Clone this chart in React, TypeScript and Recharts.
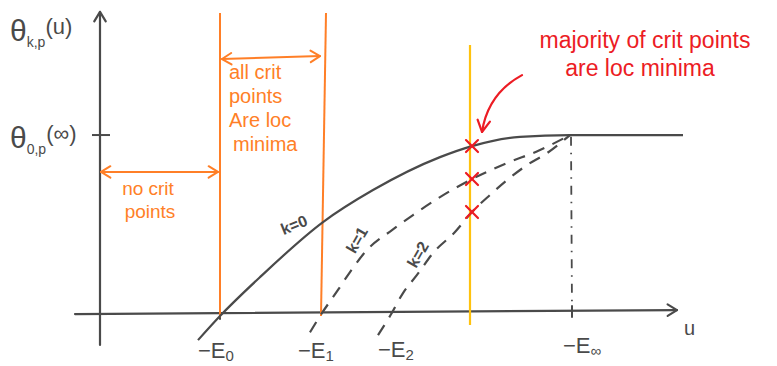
import React from 'react';
import { ComposedChart, Line, XAxis, YAxis, ReferenceLine, ReferenceDot } from 'recharts';

// u positions of the marked energies on the horizontal axis
const E_TICKS = [
  { u: 2.4, sub: '0' },
  { u: 4.4, sub: '1' },
  { u: 5.66, sub: '2' },
  { u: 9.44, sub: '∞' },
];
const CUT_U = 7.44;

// theta_{k,p}(u) sketches, theta_{0,p}(inf) = 1
const K0 = [
  { u: 1.96, theta: -0.133 },
  { u: 2.4, theta: 0 },
  { u: 3.2, theta: 0.215 },
  { u: 4.46, theta: 0.519 },
  { u: 5.46, theta: 0.696 },
  { u: 6.8, theta: 0.878 },
  { u: 7.44, theta: 0.939 },
  { u: 8.4, theta: 0.99 },
  { u: 9.4, theta: 1 },
  { u: 11.66, theta: 1 },
];
const K1 = [
  { u: 4.2, theta: -0.09 },
  { u: 4.4, theta: 0 },
  { u: 4.76, theta: 0.144 },
  { u: 5.0, theta: 0.243 },
  { u: 5.34, theta: 0.365 },
  { u: 5.84, theta: 0.475 },
  { u: 6.26, theta: 0.558 },
  { u: 6.8, theta: 0.657 },
  { u: 7.44, theta: 0.757 },
  { u: 8.14, theta: 0.845 },
  { u: 8.8, theta: 0.917 },
  { u: 9.4, theta: 1 },
];
const K2 = [
  { u: 5.56, theta: -0.105 },
  { u: 5.8, theta: 0 },
  { u: 6.06, theta: 0.127 },
  { u: 6.34, theta: 0.227 },
  { u: 6.66, theta: 0.348 },
  { u: 7.1, theta: 0.464 },
  { u: 7.44, theta: 0.575 },
  { u: 7.8, theta: 0.669 },
  { u: 8.14, theta: 0.751 },
  { u: 8.54, theta: 0.834 },
  { u: 8.94, theta: 0.9 },
  { u: 9.4, theta: 1 },
];

const CURVES = [K0, K1, K2];

const INK = '#4a4a4a';
const ORANGE = '#ff7f27';
const YELLOW = '#ffc20e';
const RED = '#ec1c24';
const FONT = '"Liberation Sans", Arial, sans-serif';

type Pt = { x: number; y: number };

function head(tip: Pt, from: Pt, len = 10, spread = 0.5) {
  const a = Math.atan2(tip.y - from.y, tip.x - from.x);
  const l = { x: tip.x - len * Math.cos(a - spread), y: tip.y - len * Math.sin(a - spread) };
  const r = { x: tip.x - len * Math.cos(a + spread), y: tip.y - len * Math.sin(a + spread) };
  return `M${l.x},${l.y} L${tip.x},${tip.y} L${r.x},${r.y}`;
}

// straight stroke with arrowheads on either or both ends
const arrow = (color: string, start: boolean, end: boolean, width = 2) => (p: any) => {
  const a = { x: p.x1, y: p.y1 };
  const b = { x: p.x2, y: p.y2 };
  return (
    <g fill="none" stroke={color} strokeWidth={width} strokeLinecap="round" strokeLinejoin="round">
      <path d={`M${a.x},${a.y} L${b.x},${b.y}`} />
      {start && <path d={head(a, b, 11, 0.55)} />}
      {end && <path d={head(b, a, 11, 0.55)} />}
    </g>
  );
};

// bowed pointer from the note down to the crossing
const curvedArrow = (p: any) => {
  const a = { x: p.x1, y: p.y1 };
  const b = { x: p.x2, y: p.y2 };
  const c = { x: (a.x + b.x) / 2 - 14, y: (a.y + b.y) / 2 - 10 };
  return (
    <g fill="none" stroke={RED} strokeWidth={2.2} strokeLinecap="round" strokeLinejoin="round">
      <path d={`M${a.x},${a.y} Q${c.x},${c.y} ${b.x},${b.y}`} />
      <path d={head(b, c, 13, 0.5)} />
    </g>
  );
};

const cross = (p: any) => (
  <g stroke={RED} strokeWidth={2.2} strokeLinecap="round">
    <line x1={p.cx - 6} y1={p.cy - 6} x2={p.cx + 6} y2={p.cy + 6} />
    <line x1={p.cx + 6} y1={p.cy - 6} x2={p.cx - 6} y2={p.cy + 6} />
  </g>
);

const label =
  (content: React.ReactNode, color: string, size: number, angle = 0, anchor = 'middle', weight = 'normal') =>
  (p: any) => (
    <text
      x={p.cx}
      y={p.cy}
      fill={color}
      fontSize={size}
      fontWeight={weight}
      fontFamily={FONT}
      textAnchor={anchor}
      dominantBaseline="central"
      transform={angle ? `rotate(${angle} ${p.cx} ${p.cy})` : undefined}
    >
      {content}
    </text>
  );

const tickLabel = (sub: string) =>
  label(
    <>
      <tspan>−E</tspan>
      <tspan fontSize={15} dy={5}>
        {sub}
      </tspan>
    </>,
    INK,
    22,
    0,
    'start'
  );

const TICK_LABEL_AT = [
  { u: 1.96, theta: -0.19 },
  { u: 3.96, theta: -0.19 },
  { u: 5.56, theta: -0.18 },
  { u: 9.26, theta: -0.16 },
];

const noDot = { dot: false, activeDot: false, isAnimationActive: false, legendType: 'none' as const };

export default function App() {
  const crossings = CURVES.map((c) => c.find((d) => d.u === CUT_U)!);

  return (
    <div style={{ position: 'fixed', left: 0, top: 0, background: '#fff' }}>
      <ComposedChart width={777} height={366} margin={{ top: 0, right: 0, bottom: 0, left: 0 }}>
        <XAxis type="number" dataKey="u" hide domain={[-2, 13.54]} allowDataOverflow />
        <YAxis type="number" hide domain={[-0.276, 1.746]} allowDataOverflow />

        {/* axes */}
        <ReferenceLine segment={[{ x: 0, y: -0.16 }, { x: 0, y: 1.68 }]} ifOverflow="visible" shape={arrow(INK, false, true, 2.2)} />
        <ReferenceLine segment={[{ x: -0.5, y: 0.011 }, { x: 11.54, y: 0.033 }]} ifOverflow="visible" shape={arrow(INK, false, true, 2.2)} />
        <ReferenceLine segment={[{ x: -0.16, y: 1 }, { x: 0.2, y: 1 }]} stroke={INK} strokeWidth={2} ifOverflow="visible" />
        <ReferenceLine segment={[{ x: 2.4, y: 0.05 }, { x: 2.4, y: -0.02 }]} stroke={INK} strokeWidth={2} ifOverflow="visible" />
        <ReferenceLine segment={[{ x: 9.44, y: 0.06 }, { x: 9.44, y: -0.01 }]} stroke={INK} strokeWidth={2} ifOverflow="visible" />
        <ReferenceLine
          segment={[{ x: 9.42, y: 0.99 }, { x: 9.44, y: 0.03 }]}
          stroke={INK}
          strokeWidth={1.8}
          strokeDasharray="9 7 1.5 7"
          ifOverflow="visible"
        />

        {/* regions */}
        <ReferenceLine segment={[{ x: 2.4, y: 1.674 }, { x: 2.4, y: -0.006 }]} stroke={ORANGE} strokeWidth={2} ifOverflow="visible" />
        <ReferenceLine segment={[{ x: 4.52, y: 1.674 }, { x: 4.42, y: 0 }]} stroke={ORANGE} strokeWidth={2} ifOverflow="visible" />
        <ReferenceLine segment={[{ x: 0.02, y: 0.796 }, { x: 2.36, y: 0.796 }]} ifOverflow="visible" shape={arrow(ORANGE, true, true)} />
        <ReferenceLine segment={[{ x: 2.44, y: 1.42 }, { x: 4.4, y: 1.436 }]} ifOverflow="visible" shape={arrow(ORANGE, true, true)} />
        <ReferenceLine segment={[{ x: 7.4, y: 1.497 }, { x: 7.4, y: -0.05 }]} stroke={YELLOW} strokeWidth={2.2} ifOverflow="visible" />

        <Line data={K0} dataKey="theta" type="monotone" stroke={INK} strokeWidth={2.2} {...noDot} />
        <Line data={K1} dataKey="theta" type="monotone" stroke={INK} strokeWidth={2.2} strokeDasharray="12 9" {...noDot} />
        <Line data={K2} dataKey="theta" type="monotone" stroke={INK} strokeWidth={2.2} strokeDasharray="12 9" {...noDot} />

        {crossings.map((d, i) => (
          <ReferenceDot key={i} x={d.u} y={d.theta} r={0} ifOverflow="visible" shape={cross} />
        ))}
        <ReferenceLine segment={[{ x: 8.44, y: 1.331 }, { x: 7.64, y: 1.017 }]} ifOverflow="visible" shape={curvedArrow} />

        {/* axis labels */}
        <ReferenceDot
          x={-1.8}
          y={1.58}
          r={0}
          ifOverflow="visible"
          shape={label(
            <>
              <tspan fontSize={30}>θ</tspan>
              <tspan fontSize={14} dy={12}>k,p</tspan>
              <tspan fontSize={22} dy={-16}>(u)</tspan>
            </>,
            INK,
            22,
            0,
            'start'
          )}
        />
        <ReferenceDot
          x={-1.8}
          y={0.99}
          r={0}
          ifOverflow="visible"
          shape={label(
            <>
              <tspan fontSize={30}>θ</tspan>
              <tspan fontSize={14} dy={12}>0,p</tspan>
              <tspan fontSize={22} dy={-16}>(∞)</tspan>
            </>,
            INK,
            22,
            0,
            'start'
          )}
        />
        <ReferenceDot x={11.68} y={-0.066} r={0} ifOverflow="visible" shape={label('u', INK, 20, 0, 'start')} />
        {E_TICKS.map((t, i) => (
          <ReferenceDot
            key={t.sub}
            x={TICK_LABEL_AT[i].u}
            y={TICK_LABEL_AT[i].theta}
            r={0}
            ifOverflow="visible"
            shape={tickLabel(t.sub)}
          />
        ))}

        {/* curve labels */}
        <ReferenceDot x={3.88} y={0.503} r={0} ifOverflow="visible" shape={label('k=0', INK, 16, -22, 'middle', 'bold')} />
        <ReferenceDot x={5.14} y={0.42} r={0} ifOverflow="visible" shape={label('k=1', INK, 16, -60, 'middle', 'bold')} />
        <ReferenceDot x={6.36} y={0.34} r={0} ifOverflow="visible" shape={label('k=2', INK, 16, -60, 'middle', 'bold')} />

        {/* notes */}
        <ReferenceDot x={0.96} y={0.707} r={0} ifOverflow="visible" shape={label('no crit', ORANGE, 19)} />
        <ReferenceDot x={1.0} y={0.58} r={0} ifOverflow="visible" shape={label('points', ORANGE, 19)} />
        <ReferenceDot x={2.58} y={1.348} r={0} ifOverflow="visible" shape={label('all crit', ORANGE, 20, 0, 'start')} />
        <ReferenceDot x={2.58} y={1.215} r={0} ifOverflow="visible" shape={label('points', ORANGE, 20, 0, 'start')} />
        <ReferenceDot x={2.58} y={1.083} r={0} ifOverflow="visible" shape={label('Are loc', ORANGE, 20, 0, 'start')} />
        <ReferenceDot x={2.66} y={0.95} r={0} ifOverflow="visible" shape={label('minima', ORANGE, 20, 0, 'start')} />
        <ReferenceDot x={10.9} y={1.525} r={0} ifOverflow="visible" shape={label('majority of crit points', RED, 23)} />
        <ReferenceDot x={10.8} y={1.37} r={0} ifOverflow="visible" shape={label('are loc minima', RED, 23)} />
      </ComposedChart>
    </div>
  );
}
